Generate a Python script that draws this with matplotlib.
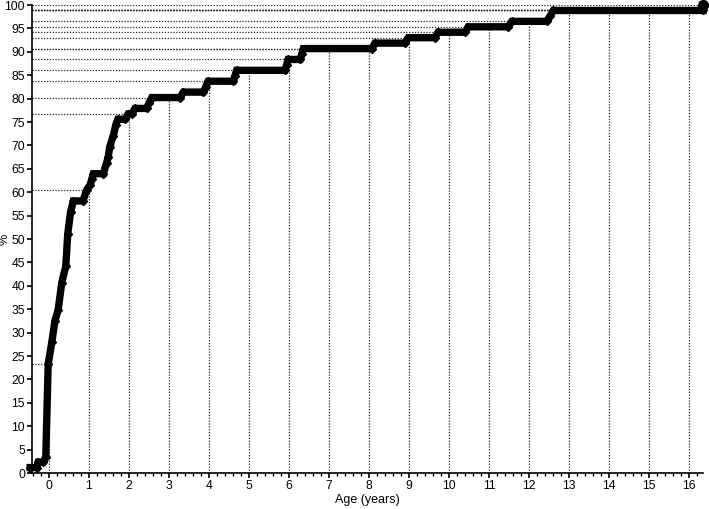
import numpy as np
import matplotlib.pyplot as plt
from matplotlib.ticker import MultipleLocator

plt.rcParams['font.family'] = ['Liberation Sans', 'DejaVu Sans']

# cumulative number of cases (out of 86) against age in years
n_total = 86
age = [-0.47, -0.31, -0.27, -0.14, -0.08, -0.02, 0.07, 0.15, 0.23, 0.32,
       0.42, 0.47, 0.54, 0.61, 0.85, 0.94, 1.03, 1.07, 1.11, 1.36,
       1.44, 1.48, 1.52, 1.61, 1.67, 1.72, 1.9, 1.98, 2.07, 2.15,
       2.44, 2.5, 2.57, 3.28, 3.36, 3.86, 3.92, 3.98, 4.61, 4.65,
       4.69, 5.9, 5.94, 5.98, 6.28, 6.32, 6.36, 8.07, 8.15, 8.9,
       8.98, 9.65, 9.73, 10.4, 10.48, 11.48, 11.57, 12.44, 12.53, 12.61,
       16.35]
cases = [1, 1, 2, 2, 3, 20, 24, 28, 30, 35,
         38, 44, 48, 50, 50, 52, 53, 54, 55, 55,
         57, 58, 60, 62, 64, 65, 65, 66, 66, 67,
         67, 68, 69, 69, 70, 70, 71, 72, 72, 73,
         74, 74, 75, 76, 76, 77, 78, 78, 79, 79,
         80, 80, 81, 81, 82, 82, 83, 83, 84, 85,
         85]
last_age = 16.35
last_cases = 86

# reading lines at whole years
years = list(range(0, 17))
cases_at_year = [20, 52, 66, 69, 72, 74, 76, 78, 78, 80, 81, 82, 83, 85, 85, 85, 85]

pct = np.array(cases) / n_total * 100
pct_year = np.array(cases_at_year) / n_total * 100
last_pct = last_cases / n_total * 100

fig = plt.figure(figsize=(7.09, 5.09), dpi=100)
ax = fig.add_axes([0.0451, 0.0707, 0.9464, 0.9194])

xmin, xmax = -0.425, 16.35
dots = (0, (1, 1.3))

for yr, p in zip(years, pct_year):
    ax.plot([yr, yr], [0, p], color='#222222', lw=0.9, ls=dots, zorder=1)
    ax.plot([xmin, yr], [p, p], color='#222222', lw=0.9, ls=dots, zorder=1)
ax.plot([xmin, last_age], [last_pct, last_pct], color='#222222', lw=0.9, ls=dots, zorder=1)

ax.plot(age + [last_age], list(pct) + [last_pct], color='black', lw=5.3,
        marker='D', ms=4.5, solid_joinstyle='miter', zorder=3, clip_on=False)
ax.plot([last_age], [last_pct], 'o', color='black', ms=7, zorder=4, clip_on=False)

ax.set_xlim(xmin, xmax)
ax.set_ylim(0, 100)
ax.xaxis.set_major_locator(MultipleLocator(1))
ax.xaxis.set_minor_locator(MultipleLocator(0.2))
ax.yaxis.set_major_locator(MultipleLocator(5))

for s in ['top', 'right']:
    ax.spines[s].set_visible(False)
for s in ['left', 'bottom']:
    ax.spines[s].set_linewidth(1.2)

ax.tick_params(axis='both', which='major', direction='out', length=3.5, width=1.2,
               labelsize=8.7, pad=1.5, colors='black')
ax.tick_params(axis='x', which='minor', direction='out', length=2.5, width=1)

ax.set_xlabel('Age (years)', fontsize=9, va='center')
ax.set_ylabel('%', fontsize=9, va='center')
ax.xaxis.set_label_coords(0.5, -0.058)
ax.yaxis.set_label_coords(-0.041, 0.5)

fig.savefig('out.png', dpi=100)
